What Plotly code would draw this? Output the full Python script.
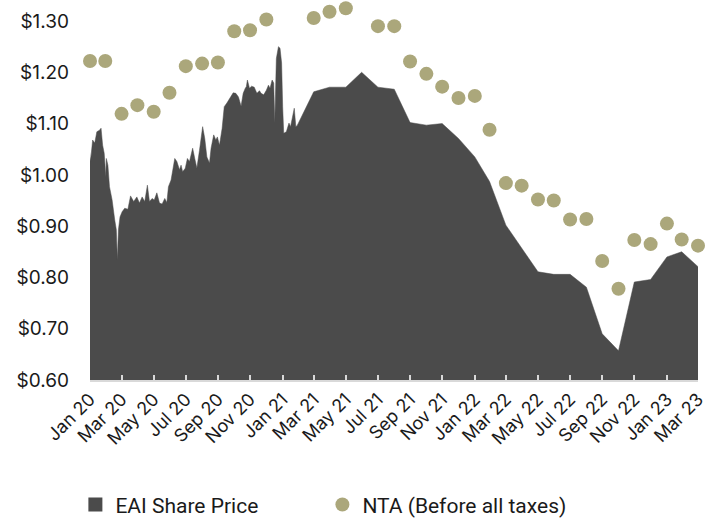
import plotly.graph_objects as go

# EAI share price (daily-ish through Feb 2021, then month-end)
price_dates = [
    "2020-01-30", "2020-02-01", "2020-02-05", "2020-02-09", "2020-02-13", "2020-02-18",
    "2020-02-21", "2020-02-24", "2020-02-27", "2020-03-01", "2020-03-02", "2020-03-05",
    "2020-03-08", "2020-03-13", "2020-03-18", "2020-03-21", "2020-03-23", "2020-03-25",
    "2020-03-28", "2020-04-01", "2020-04-06", "2020-04-12", "2020-04-17", "2020-04-23",
    "2020-04-29", "2020-05-04", "2020-05-09", "2020-05-14", "2020-05-19", "2020-05-23",
    "2020-05-28", "2020-06-01", "2020-06-06", "2020-06-11", "2020-06-16", "2020-06-21",
    "2020-06-25", "2020-06-28", "2020-07-03", "2020-07-10", "2020-07-14", "2020-07-19",
    "2020-07-22", "2020-07-25", "2020-07-30", "2020-08-03", "2020-08-07", "2020-08-13",
    "2020-08-17", "2020-08-21", "2020-08-26", "2020-09-01", "2020-09-05", "2020-09-09",
    "2020-09-14", "2020-09-17", "2020-09-22", "2020-09-26", "2020-09-29", "2020-10-03",
    "2020-10-08", "2020-10-12", "2020-10-17", "2020-10-23", "2020-10-29", "2020-11-03",
    "2020-11-08", "2020-11-13", "2020-11-17", "2020-11-21", "2020-11-23", "2020-11-25",
    "2020-11-29", "2020-12-03", "2020-12-08", "2020-12-13", "2020-12-18", "2020-12-21",
    "2020-12-26", "2020-12-31", "2021-01-04", "2021-01-07", "2021-01-11", "2021-01-14",
    "2021-01-16", "2021-01-19", "2021-01-23", "2021-01-26", "2021-01-29", "2021-01-31",
    "2021-02-02", "2021-02-07", "2021-02-12", "2021-02-15", "2021-02-18", "2021-02-22",
    "2021-02-25", "2021-02-28",
    "2021-03-31", "2021-04-30", "2021-05-31", "2021-06-30", "2021-07-31", "2021-08-31",
    "2021-09-30", "2021-10-31", "2021-11-30", "2021-12-31", "2022-01-31", "2022-02-28",
    "2022-03-31", "2022-04-30", "2022-05-31", "2022-06-30", "2022-07-31", "2022-08-31",
    "2022-09-30", "2022-10-31", "2022-11-30", "2022-12-31", "2023-01-31", "2023-02-28",
    "2023-03-31",
]
price_values = [
    1.045, 1.026, 1.068, 1.062, 1.084, 1.087,
    1.091, 1.058, 1.042, 0.996, 1.032, 1.019,
    0.977, 0.951, 0.912, 0.893, 0.834, 0.893,
    0.918, 0.928, 0.935, 0.933, 0.959, 0.948,
    0.957, 0.945, 0.957, 0.948, 0.980, 0.948,
    0.954, 0.951, 0.965, 0.945, 0.943, 0.954,
    0.946, 0.977, 0.990, 1.032, 1.026, 1.010,
    1.019, 1.006, 1.013, 1.032, 1.026, 1.052,
    1.032, 1.013, 1.048, 1.094, 1.071, 1.035,
    1.023, 1.052, 1.078, 1.068, 1.074, 1.058,
    1.091, 1.133, 1.140, 1.149, 1.160, 1.159,
    1.152, 1.134, 1.159, 1.169, 1.172, 1.185,
    1.169, 1.173, 1.171, 1.159, 1.164, 1.159,
    1.156, 1.165, 1.175, 1.169, 1.185, 1.179,
    1.101, 1.227, 1.250, 1.247, 1.218, 1.133,
    1.081, 1.084, 1.101, 1.094, 1.107, 1.130,
    1.094, 1.097,
    1.162, 1.171, 1.171, 1.200, 1.171, 1.167,
    1.102, 1.097, 1.100, 1.071, 1.035, 0.987,
    0.902, 0.856, 0.811, 0.806, 0.806, 0.781,
    0.690, 0.657, 0.791, 0.796, 0.840, 0.850,
    0.821,
]

# NTA (before all taxes), month-end
nta_dates = [
    "2020-01-31", "2020-02-29", "2020-03-31", "2020-04-30", "2020-05-31", "2020-06-30",
    "2020-07-31", "2020-08-31", "2020-09-30", "2020-10-31", "2020-11-30", "2020-12-31",
    "2021-03-31", "2021-04-30", "2021-05-31", "2021-07-31", "2021-08-31", "2021-09-30",
    "2021-10-31", "2021-11-30", "2021-12-31", "2022-01-31", "2022-02-28", "2022-03-31",
    "2022-04-30", "2022-05-31", "2022-06-30", "2022-07-31", "2022-08-31", "2022-09-30",
    "2022-10-31", "2022-11-30", "2022-12-31", "2023-01-31", "2023-02-28", "2023-03-31",
]
nta_values = [
    1.222, 1.222, 1.119, 1.136, 1.123, 1.160,
    1.212, 1.217, 1.219, 1.280, 1.282, 1.303,
    1.306, 1.318, 1.325, 1.290, 1.290, 1.221,
    1.197, 1.172, 1.150, 1.154, 1.088, 0.984,
    0.979, 0.952, 0.950, 0.913, 0.914, 0.832,
    0.778, 0.873, 0.865, 0.905, 0.874, 0.862,
]

tick_dates = [
    "2020-01-31", "2020-03-31", "2020-05-31", "2020-07-31", "2020-09-30", "2020-11-30",
    "2021-01-31", "2021-03-31", "2021-05-31", "2021-07-31", "2021-09-30", "2021-11-30",
    "2022-01-31", "2022-03-31", "2022-05-31", "2022-07-31", "2022-09-30", "2022-11-30",
    "2023-01-31", "2023-03-31",
]
tick_labels = [
    "Jan 20", "Mar 20", "May 20", "Jul 20", "Sep 20", "Nov 20",
    "Jan 21", "Mar 21", "May 21", "Jul 21", "Sep 21", "Nov 21",
    "Jan 22", "Mar 22", "May 22", "Jul 22", "Sep 22", "Nov 22",
    "Jan 23", "Mar 23",
]
y_ticks = [0.6, 0.7, 0.8, 0.9, 1.0, 1.1, 1.2, 1.3]

FONT = "Inter"
LEGEND_FONT = "Roboto"
AREA = "#4b4b4b"
DOT = "#aba77b"

fig = go.Figure()
fig.add_trace(go.Scatter(
    x=price_dates, y=price_values, name="EAI Share Price",
    mode="lines", fill="tozeroy", fillcolor=AREA,
    line=dict(color=AREA, width=0.5), showlegend=False,
))
# legend entry (square swatch) for the area series
fig.add_trace(go.Scatter(
    x=[None], y=[None], name="EAI Share Price", mode="markers",
    marker=dict(symbol="square", size=14, color=AREA),
))
fig.add_trace(go.Scatter(
    x=nta_dates, y=nta_values, name="NTA (Before all taxes)",
    mode="markers", marker=dict(color=DOT, size=14),
    cliponaxis=False,
))

fig.update_layout(
    width=718, height=520,
    margin=dict(l=90, r=20, t=0, b=140, autoexpand=False),
    paper_bgcolor="white", plot_bgcolor="white",
    font=dict(family=FONT, color="#1a1a1a", size=16),
    showlegend=True,
    legend=dict(
        orientation="h",
        xref="container", x=0.105, xanchor="left",
        yref="container", y=0.029, yanchor="middle",
        font=dict(size=21, family=LEGEND_FONT, color="#1a1a1a"),
        entrywidth=202, entrywidthmode="pixels",
        itemsizing="trace",
    ),
)
fig.update_xaxes(
    type="date", range=["2020-01-31", "2023-03-31"],
    tickvals=tick_dates, ticktext=tick_labels, tickangle=-45,
    showline=True, linecolor="#d9d9d9", linewidth=1.5,
    ticks="inside", ticklen=5, tickcolor="#d9d9d9", tickwidth=1.5,
    showgrid=False, zeroline=False, automargin=False,
    tickfont=dict(size=18, family=FONT),
)
fig.update_yaxes(
    range=[0.6, 1.341], tickvals=y_ticks, tickformat="$.2f",
    showgrid=False, zeroline=False, showline=False, ticks="",
    ticklabelstandoff=20, automargin=False,
    tickfont=dict(size=19, family=FONT),
)

fig.write_html(
    "out.html",
    config={"displayModeBar": False},
    post_script="document.body.style.margin='0';document.body.style.overflow='hidden';",
)
